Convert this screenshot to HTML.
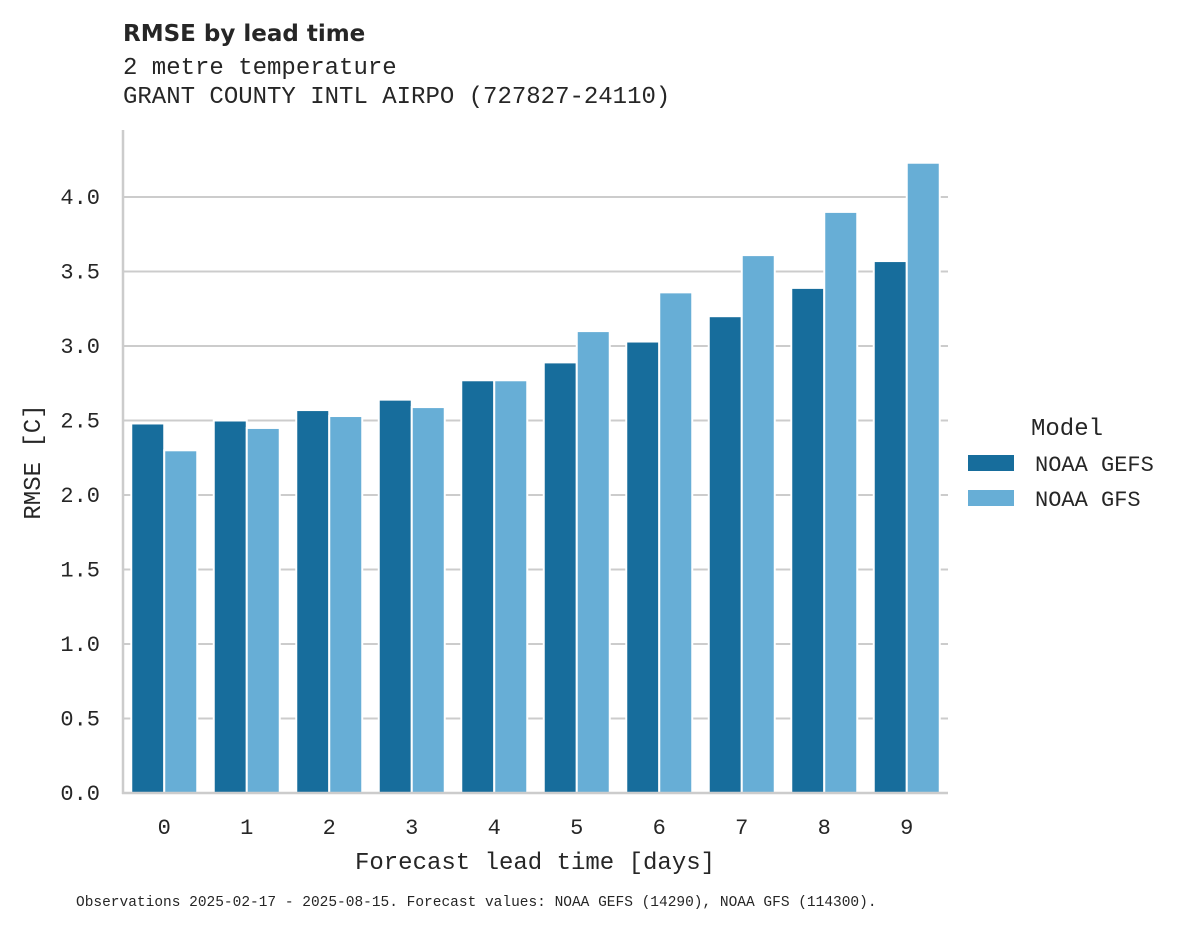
<!DOCTYPE html>
<html><head><meta charset="utf-8"><style>
body{margin:0;background:#fff;}
svg text{font-family:"Liberation Mono","DejaVu Sans Mono",monospace;fill:#262626;}
</style></head><body>
<svg width="1188" height="928" viewBox="0 0 1188 928" xmlns="http://www.w3.org/2000/svg">
<rect width="1188" height="928" fill="#fff"/>
<text x="123" y="41" style="font-family:'DejaVu Sans','Liberation Sans',sans-serif;font-weight:bold;font-size:23px">RMSE by lead time</text>
<text x="123" y="74" font-size="24">2 metre temperature</text>
<text x="123" y="103" font-size="24">GRANT COUNTY INTL AIRPO (727827-24110)</text>
<g id="grid"></g>
<g id="bars"></g>
<line x1="123" y1="130" x2="123" y2="794" stroke="#ccc" stroke-width="2.5"/>
<line x1="122" y1="793" x2="948" y2="793" stroke="#ccc" stroke-width="2.5"/>
<g id="yticks"></g>
<g id="xticks"></g>
<text x="535" y="869" font-size="24" text-anchor="middle">Forecast lead time [days]</text>
<text transform="translate(40,462) rotate(-90)" font-size="24" text-anchor="middle">RMSE [C]</text>
<g>
<text x="1067" y="435" font-size="24" text-anchor="middle">Model</text>
<rect x="968" y="455" width="46" height="16" fill="#176d9c"/>
<text x="1035" y="471" font-size="22">NOAA GEFS</text>
<rect x="968" y="490" width="46" height="16" fill="#67aed6"/>
<text x="1035" y="506" font-size="22">NOAA GFS</text>
</g>
<text x="76" y="906" font-size="14.5">Observations 2025-02-17 - 2025-08-15. Forecast values: NOAA GEFS (14290), NOAA GFS (114300).</text>
</svg>
<script>
const categories=["0","1","2","3","4","5","6","7","8","9"];
const gefs=[2.48,2.50,2.57,2.64,2.77,2.89,3.03,3.20,3.39,3.57];
const gfs=[2.30,2.45,2.53,2.59,2.77,3.10,3.36,3.61,3.90,4.23];
const yTicks=["0.0","0.5","1.0","1.5","2.0","2.5","3.0","3.5","4.0"];
const NS="http://www.w3.org/2000/svg";
const y=v=>793-v*149;
const step=82.5,x0=123;
const xc=i=>x0+step*(i+0.5);
const grid=document.getElementById('grid'),bars=document.getElementById('bars'),yt=document.getElementById('yticks'),xt=document.getElementById('xticks');
yTicks.forEach(t=>{const v=parseFloat(t);
 const l=document.createElementNS(NS,'line');
 
 
 l.setAttribute('x1',123);l.setAttribute('x2',948);l.setAttribute('y1',y(v));l.setAttribute('y2',y(v));
 l.setAttribute('stroke','#cccccc');l.setAttribute('stroke-width','2');grid.appendChild(l);
 const tx=document.createElementNS(NS,'text');
 
 
 tx.setAttribute('x',100);tx.setAttribute('y',y(v)+7);tx.setAttribute('text-anchor','end');tx.setAttribute('font-size','22');
 tx.textContent=t;yt.appendChild(tx);});
const bw=33;
categories.forEach((c,i)=>{
 [[gefs[i],'#176d9c',-bw,'bar-gefs'],[gfs[i],'#67aed6',0,'bar-gfs']].forEach(([v,col,off,nm])=>{
  const r=document.createElementNS(NS,'rect');
  
  
  r.setAttribute('x',xc(i)+off);r.setAttribute('width',bw);r.setAttribute('y',y(v));r.setAttribute('height',793-y(v));
  r.setAttribute('fill',col);r.setAttribute('stroke','#fff');r.setAttribute('stroke-width','2');bars.appendChild(r);});
 const tx=document.createElementNS(NS,'text');
 
 
 tx.setAttribute('x',xc(i));tx.setAttribute('y',834);tx.setAttribute('text-anchor','middle');tx.setAttribute('font-size','22');
 tx.textContent=c;xt.appendChild(tx);});
</script>
</body></html>
